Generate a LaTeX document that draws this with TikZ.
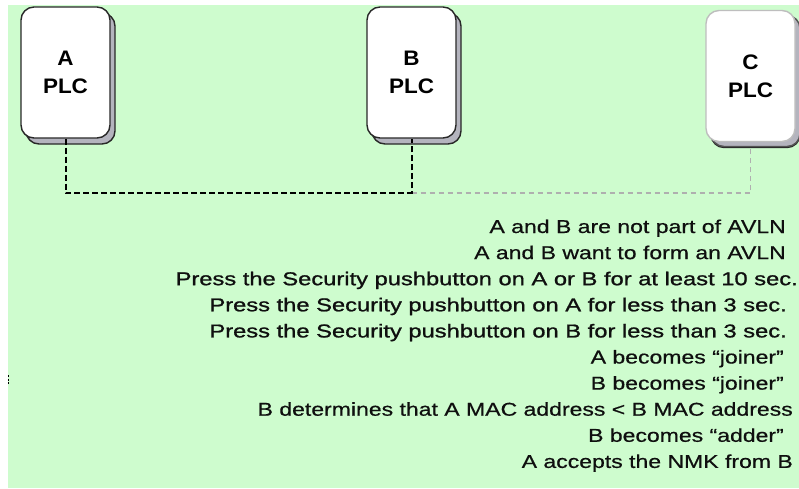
\documentclass[tikz,border=0pt]{standalone}
\usepackage{fontspec}
\setmainfont{Liberation Sans}
\newfontfamily\txtfont[FakeStretch=1.237,FakeBold=0.6]{Liberation Sans}
\newfontfamily\pressfont[FakeStretch=1.275,FakeBold=1.1]{Liberation Sans}
\newfontfamily\boxfont[FakeStretch=1.07]{Liberation Sans}
\usetikzlibrary{shadows}
\definecolor{bg}{RGB}{206,252,206}
\definecolor{boxedge}{RGB}{40,40,40}
\definecolor{shadowgray}{RGB}{180,180,190}
\definecolor{lightedge}{RGB}{190,190,190}
\definecolor{lightdash}{RGB}{175,175,175}
\definecolor{ink}{RGB}{15,15,15}
\begin{document}
\begin{tikzpicture}[x=1pt,y=-1pt,
  plc/.style={draw=boxedge, line width=1.4pt, fill=white, rounded corners=13pt,
    minimum width=89pt, minimum height=131pt, align=center, inner sep=0pt,
    font=\boxfont\bfseries\fontsize{21}{28}\selectfont,
    copy shadow={shadow xshift=5pt, shadow yshift=-6pt, fill=shadowgray, draw=boxedge, line width=1.4pt}},
  plcfaint/.style={plc, draw=lightedge,
    copy shadow={shadow xshift=5pt, shadow yshift=-5pt, fill=shadowgray, draw=boxedge!80, line width=1.4pt}},
  link/.style={draw=black, line width=2pt, dash pattern=on 6pt off 3pt},
  linkfaint/.style={draw=lightdash, line width=1.1pt, dash pattern=on 5pt off 4pt},
  txt/.style={anchor=base east, inner sep=0pt, text=ink, font=\txtfont\fontsize{18.6}{22}\selectfont},
  presstxt/.style={anchor=base east, inner sep=0pt, text=ink, font=\pressfont\fontsize{18.6}{22}\selectfont}
]
\useasboundingbox (0,0) rectangle (799,488);
\fill[white] (0,0) rectangle (799,488);
\fill[bg] (8,5) rectangle (799,488);
\draw[black, line width=1pt, dash pattern=on 2pt off 1.5pt] (8.5,375) -- (8.5,384);

\coordinate (bus) at (0,193);

\node[plc] (A) at (65.5,72.5) {A\\PLC};
\node[plc] (B) at (411.5,72.5) {B\\PLC};
\node[plcfaint] (C) at (750.5,76) {C\\PLC};

\draw[linkfaint] (B.south |- bus) -- (C.south |- bus) -- ([yshift=-6pt]C.south);
\draw[link] (A.south) -- (A.south |- bus) -- (B.south |- bus) -- (B.south);

\node[txt] (t1) at (786,233) {A and B are not part of AVLN};
\node[txt] (t2) at (786,259.1) {A and B want to form an AVLN};
\node[presstxt] (t3) at (798,285.2) {Press the Security pushbutton on A or B for at least 10 sec.};
\node[presstxt] (t4) at (787,311.3) {Press the Security pushbutton on A for less than 3 sec.};
\node[presstxt] (t5) at (787,337.4) {Press the Security pushbutton on B for less than 3 sec.};
\node[txt] (t6) at (784,363.5) {A becomes “joiner”};
\node[txt] (t7) at (784,389.6) {B becomes “joiner”};
\node[txt] (t8) at (793,415.7) {B determines that A MAC address < B MAC address};
\node[txt] (t9) at (784,441.8) {B becomes “adder”};
\node[txt] (t10) at (793,467.9) {A accepts the NMK from B};
\end{tikzpicture}
\end{document}
